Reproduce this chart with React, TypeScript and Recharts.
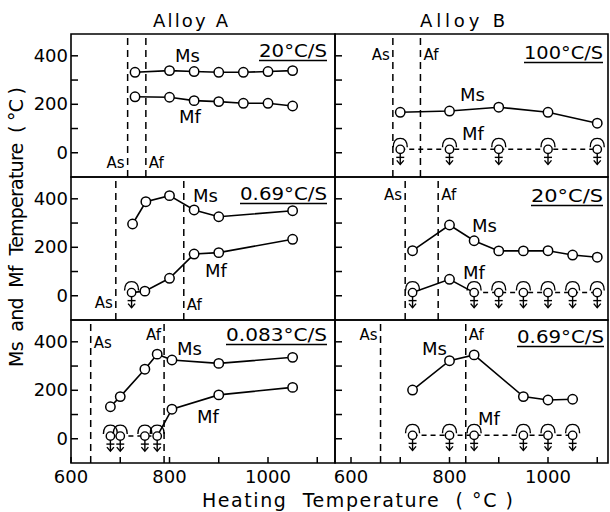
import React from 'react';
import { ComposedChart, Line, XAxis, YAxis, ReferenceLine, ReferenceArea } from 'recharts';

const FONT = '"DejaVu Sans", "Noto Sans", sans-serif';

// Alloy A, 20°C/S
const a1MsTemp = [730, 800, 850, 900, 950, 1000, 1050];
const a1Ms = [332, 339, 335, 332, 332, 335, 339];
const a1MfTemp = [730, 800, 850, 900, 950, 1000, 1050];
const a1Mf = [231, 229, 215, 211, 204, 204, 193];
const a1MfBelow = [0, 0, 0, 0, 0, 0, 0];
const a1AsAf = [715, 752];

// Alloy B, 100°C/S
const b1MsTemp = [700, 800, 900, 1000, 1100];
const b1Ms = [167, 172, 188, 167, 122];
const b1MfTemp = [700, 800, 900, 1000, 1100];
const b1Mf = [14, 14, 14, 14, 14];
const b1MfBelow = [1, 1, 1, 1, 1];
const b1AsAf = [685, 741];

// Alloy A, 0.69°C/S
const a2MsTemp = [725, 752, 800, 850, 900, 1050];
const a2Ms = [296, 388, 413, 354, 326, 351];
const a2MfTemp = [723, 750, 800, 850, 900, 1050];
const a2Mf = [13, 19, 72, 172, 178, 233];
const a2MfBelow = [1, 0, 0, 0, 0, 0];
const a2AsAf = [691, 829];

// Alloy B, 20°C/S
const b2MsTemp = [725, 800, 850, 900, 950, 1000, 1050, 1100];
const b2Ms = [186, 292, 227, 185, 185, 186, 168, 159];
const b2MfTemp = [725, 800, 850, 900, 950, 1000, 1050, 1100];
const b2Mf = [13, 68, 13, 13, 13, 13, 13, 13];
const b2MfBelow = [1, 0, 1, 1, 1, 1, 1, 1];
const b2AsAf = [710, 777];

// Alloy A, 0.083°C/S
const a3MsTemp = [680, 700, 750, 775, 805, 900, 1050];
const a3Ms = [132, 174, 287, 349, 325, 311, 336];
const a3MfTemp = [680, 700, 750, 775, 805, 900, 1050];
const a3Mf = [11, 11, 11, 11, 122, 181, 212];
const a3MfBelow = [1, 1, 1, 1, 0, 0, 0];
const a3AsAf = [640, 789];

// Alloy B, 0.69°C/S
const b3MsTemp = [725, 800, 850, 950, 1000, 1050];
const b3Ms = [201, 322, 346, 174, 160, 163];
const b3MfTemp = [725, 800, 850, 950, 1000, 1050];
const b3Mf = [14, 14, 14, 14, 14, 14];
const b3MfBelow = [1, 1, 1, 1, 1, 1];
const b3AsAf = [660, 833];

const X_TICKS = [600, 700, 800, 900, 1000, 1100];
const X_LABELS = [600, 800, 1000];
const Y_TICKS = [0, 100, 200, 300, 400];
const Y_LABELS = [0, 200, 400];
const Y_DOMAIN = [-100, 490];

const PX_PER_DEG = 0.4925;
const PH = 143;
const ROW_TOP = [34, 177, 320];
const COLS = [
  { left: 71, width: 264, min: 600, axisW: 71, showY: true },
  { left: 335, width: 273, min: 600 - 16 / PX_PER_DEG, axisW: 4, showY: false },
];

const panels = [
  { col: 0, row: 0, msT: a1MsTemp, ms: a1Ms, mfT: a1MfTemp, mf: a1Mf, below: a1MfBelow, asaf: a1AsAf,
    asLab: ['left', 134], afLab: ['right', 134] },
  { col: 1, row: 0, msT: b1MsTemp, ms: b1Ms, mfT: b1MfTemp, mf: b1Mf, below: b1MfBelow, asaf: b1AsAf,
    asLab: ['left', 26], afLab: ['right', 26] },
  { col: 0, row: 1, msT: a2MsTemp, ms: a2Ms, mfT: a2MfTemp, mf: a2Mf, below: a2MfBelow, asaf: a2AsAf,
    asLab: ['left', 131], afLab: ['right', 133] },
  { col: 1, row: 1, msT: b2MsTemp, ms: b2Ms, mfT: b2MfTemp, mf: b2Mf, below: b2MfBelow, asaf: b2AsAf,
    asLab: ['left', 23], afLab: ['right', 23] },
  { col: 0, row: 2, msT: a3MsTemp, ms: a3Ms, mfT: a3MfTemp, mf: a3Mf, below: a3MfBelow, asaf: a3AsAf,
    asLab: ['right', 28], afLab: ['left', 20] },
  { col: 1, row: 2, msT: b3MsTemp, ms: b3Ms, mfT: b3MfTemp, mf: b3Mf, below: b3MfBelow, asaf: b3AsAf,
    asLab: ['left', 20], afLab: ['right', 20] },
];

// rate captions and Ms/Mf labels (page pixels)
const captions = [
  { text: '20°C/S', x: 259, y: 57, w: 68 },
  { text: '100°C/S', x: 524, y: 59, w: 79 },
  { text: '0.69°C/S', x: 240, y: 200, w: 87 },
  { text: '20°C/S', x: 531, y: 202, w: 72 },
  { text: '0.083°C/S', x: 226, y: 341, w: 101 },
  { text: '0.69°C/S', x: 517, y: 343, w: 87 },
];
const curveLabels = [
  ['Ms', 175, 62], ['Mf', 179, 123],
  ['Ms', 460, 101], ['Mf', 462, 140],
  ['Ms', 193, 202], ['Mf', 205, 277],
  ['Ms', 472, 232], ['Mf', 463, 279],
  ['Ms', 177, 355], ['Mf', 197, 423],
  ['Ms', 422, 355], ['Mf', 478, 425],
];

const XTick = (props: any) => {
  const { x, y, payload } = props;
  return (
    <g>
      <line x1={x} y1={y} x2={x} y2={y - 6} stroke="#000" strokeWidth={1.5} />
      {X_LABELS.includes(payload.value) && (
        <text x={x} y={y + 20} textAnchor="middle" fontSize={18} fontFamily={FONT} fill="#000">
          {payload.value}
        </text>
      )}
    </g>
  );
};

const makeYTick = (showLabel: boolean) => (props: any) => {
  const { x, y, payload } = props;
  return (
    <g>
      <line x1={x} y1={y} x2={x + 7} y2={y} stroke="#000" strokeWidth={1.5} />
      {showLabel && Y_LABELS.includes(payload.value) && (
        <text x={x - 3} y={y + 6} textAnchor="end" fontSize={18} fontFamily={FONT} fill="#000">
          {payload.value}
        </text>
      )}
    </g>
  );
};

const sideLabel = (text: string, side: string, dy: number) => (props: any) => {
  const vb = props.viewBox || {};
  const x = vb.x;
  const top = Math.min(vb.y, vb.y + (vb.height || 0));
  return (
    <text
      x={side === 'left' ? x - 3 : x + 3}
      y={top + dy}
      textAnchor={side === 'left' ? 'end' : 'start'}
      fontSize={15}
      fontFamily={FONT}
      fill="#000"
    >
      {text}
    </text>
  );
};

// open circle for measured Mf; hooded circle with down arrow when Mf lies below room temp
const MfDot = (props: any) => {
  const { cx, cy, payload, index } = props;
  if (cx == null || cy == null) return <g key={index} />;
  if (!payload.below) {
    return <circle key={index} cx={cx} cy={cy} r={4.7} fill="#fff" stroke="#000" strokeWidth={1.5} />;
  }
  return (
    <g key={index} fill="none" stroke="#000" strokeWidth={1.4}>
      <path
        d={`M ${cx - 7} ${cy - 2} C ${cx - 7} ${cy - 9} ${cx - 4} ${cy - 11} ${cx} ${cy - 11} C ${cx + 4} ${cy - 11} ${cx + 7} ${cy - 9} ${cx + 7} ${cy - 2}`}
      />
      <line x1={cx} y1={cy + 4} x2={cx} y2={cy + 15} />
      <line x1={cx - 4} y1={cy + 8} x2={cx + 4} y2={cy + 8} />
      <polyline points={`${cx - 3.5},${cy + 11} ${cx},${cy + 15} ${cx + 3.5},${cy + 11}`} />
      <circle cx={cx} cy={cy} r={4.2} fill="#fff" />
    </g>
  );
};

const Panel = ({ p }: { p: any }) => {
  const col = COLS[p.col];
  const xMax = col.min + col.width / PX_PER_DEG;
  const top = ROW_TOP[p.row];
  const bottom = p.row === 2;
  const xAxisH = bottom ? 30 : 0;
  const mTop = 2;
  const mBot = bottom ? 0 : 2;
  const mRight = 2;

  const msPts = p.msT.map((x: number, i: number) => ({ x, t: p.ms[i] }));
  const mfPts = p.mfT.map((x: number, i: number) => ({ x, t: p.mf[i], below: p.below[i] === 1 }));
  const solid = mfPts.map((d: any, i: number) => {
    const prev = mfPts[i - 1];
    const next = mfPts[i + 1];
    const keep = !d.below || (prev && !prev.below) || (next && !next.below);
    return { x: d.x, t: keep ? d.t : null };
  });
  const dashed = mfPts.map((d: any, i: number) => {
    const prev = mfPts[i - 1];
    const next = mfPts[i + 1];
    const keep = d.below && ((prev && prev.below) || (next && next.below));
    return { x: d.x, t: keep ? d.t : null };
  });

  return (
    <div style={{ position: 'absolute', left: col.left - col.axisW, top: top - mTop }}>
      <ComposedChart
        width={col.axisW + col.width + mRight}
        height={mTop + PH + xAxisH + mBot}
        margin={{ top: mTop, right: mRight, bottom: mBot, left: 0 }}
      >
        <XAxis
          type="number"
          dataKey="x"
          domain={[col.min, xMax]}
          allowDataOverflow
          ticks={X_TICKS}
          interval={0}
          hide={!bottom}
          height={xAxisH}
          axisLine={false}
          tickLine={false}
          tickSize={0}
          tickMargin={0}
          tick={XTick}
        />
        <YAxis
          type="number"
          dataKey="t"
          domain={Y_DOMAIN}
          allowDataOverflow
          ticks={Y_TICKS}
          interval={0}
          width={col.axisW}
          axisLine={false}
          tickLine={false}
          tickSize={0}
          tickMargin={0}
          tick={makeYTick(col.showY)}
        />
        <ReferenceArea
          x1={col.min}
          x2={xMax}
          y1={Y_DOMAIN[0]}
          y2={Y_DOMAIN[1]}
          fill="none"
          fillOpacity={0}
          stroke="#000"
          strokeWidth={1.6}
          ifOverflow="visible"
        />
        <ReferenceLine
          x={p.asaf[0]}
          stroke="#000"
          strokeWidth={1.5}
          strokeDasharray="7 5"
          label={sideLabel('As', p.asLab[0], p.asLab[1])}
        />
        <ReferenceLine
          x={p.asaf[1]}
          stroke="#000"
          strokeWidth={1.5}
          strokeDasharray="7 5"
          label={sideLabel('Af', p.afLab[0], p.afLab[1])}
        />
        <Line data={solid} dataKey="t" stroke="#000" strokeWidth={1.6} dot={false} activeDot={false}
          connectNulls={false} isAnimationActive={false} />
        <Line data={dashed} dataKey="t" stroke="#000" strokeWidth={1.5} strokeDasharray="5 4" dot={false}
          activeDot={false} connectNulls={false} isAnimationActive={false} />
        <Line data={mfPts} dataKey="t" stroke="none" dot={MfDot} activeDot={false} isAnimationActive={false} />
        <Line
          data={msPts}
          dataKey="t"
          stroke="#000"
          strokeWidth={1.6}
          dot={{ r: 4.7, fill: '#fff', stroke: '#000', strokeWidth: 1.5 }}
          activeDot={false}
          isAnimationActive={false}
        />
      </ComposedChart>
    </div>
  );
};

export default function App() {
  return (
    <div style={{ position: 'absolute', left: 0, top: 0, width: 610, height: 512, background: '#fff' }}>
      {panels.map((p, i) => (
        <Panel key={i} p={p} />
      ))}
      <svg
        width={610}
        height={512}
        style={{ position: 'absolute', left: 0, top: 0, pointerEvents: 'none' }}
        fontFamily={FONT}
      >
        <text x={153} y={27} fontSize={18} textLength={75} lengthAdjust="spacing">Alloy A</text>
        <text x={420} y={27} fontSize={18} textLength={85} lengthAdjust="spacing">Alloy B</text>
        {captions.map((c, i) => (
          <g key={i}>
            <text x={c.x} y={c.y} fontSize={17} textLength={c.w} lengthAdjust="spacingAndGlyphs">{c.text}</text>
            <line x1={c.x} y1={c.y + 3.5} x2={c.x + c.w} y2={c.y + 3.5} stroke="#000" strokeWidth={1.4} />
          </g>
        ))}
        {curveLabels.map(([t, x, y], i) => (
          <text key={i} x={x as number} y={y as number} fontSize={18}>{t}</text>
        ))}
        <text x={202} y={507} fontSize={19} textLength={311} lengthAdjust="spacing" style={{ whiteSpace: 'pre' }}>
          {'Heating  Temperature  ( °C )'}
        </text>
        <text
          transform="translate(23, 367) rotate(-90)"
          x={0}
          y={0}
          fontSize={19}
          textLength={280}
          lengthAdjust="spacing"
          style={{ whiteSpace: 'pre' }}
        >
          {'Ms  and  Mf  Temperature  ( °C )'}
        </text>
      </svg>
    </div>
  );
}
